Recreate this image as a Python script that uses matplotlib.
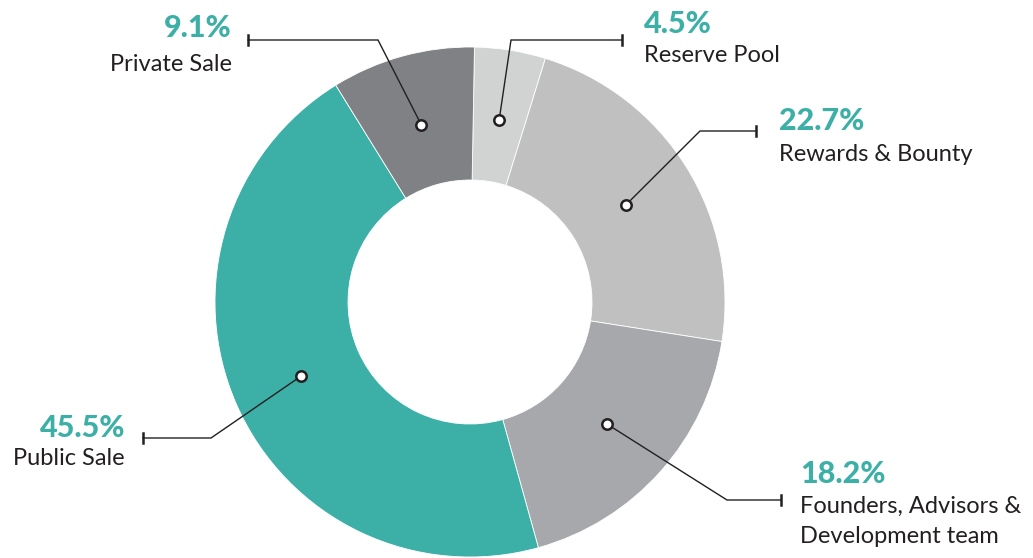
import numpy as np
import matplotlib
matplotlib.use("Agg")
import matplotlib.pyplot as plt

# ---- data ----
labels = ["Reserve Pool", "Rewards & Bounty", "Founders, Advisors &\nDevelopment team",
          "Public Sale", "Private Sale"]
values = [4.5, 22.7, 18.2, 45.5, 9.1]
pct_labels = ["4.5%", "22.7%", "18.2%", "45.5%", "9.1%"]
colors = ["#d1d3d2", "#bfc0bf", "#a7a8ab", "#3cafa7", "#808184"]

TEAL = "#3cafa7"
DARK = "#231f20"
W, H = 1033, 558

fig = plt.figure(figsize=(W / 100, H / 100), dpi=100)
ax = fig.add_axes([0, 0, 1, 1])

cx, cy = 470, 256
R_out, R_in = 255, 122
wedges, _ = ax.pie(values, colors=colors, startangle=89, counterclock=False,
                   center=(cx, cy), radius=R_out,
                   wedgeprops=dict(width=R_out - R_in, edgecolor="white", linewidth=0.6))
ax.set_xlim(0, W)
ax.set_ylim(0, H)
ax.set_aspect("equal")
ax.axis("off")

# layout for leaders: (elbow, end, text x, text align, pct baseline, label baseline)
layout = [
    ((511, 518), (622, 518), 644, "left", 525, 496),
    ((700, 427), (756, 427), 779, "left", 428, 397),
    ((727, 58), (781, 58), 800, "left", 75, 45),
    ((211, 120), (143, 120), 125, "right", 121, 93),
    ((378, 518), (248, 518), 232, "right", 521, 487),
]

font = "Lato"
r_dot = 184
for w, lab, pct, lay in zip(wedges, labels, pct_labels, layout):
    ang = np.deg2rad((w.theta1 + w.theta2) / 2)
    px, py = cx + r_dot * np.cos(ang), cy + r_dot * np.sin(ang)
    (ex, ey), (tx, ty), txtx, ha, pb, lb = lay
    ax.plot([px, ex, tx], [py, ey, ty], color=DARK, lw=1.0, zorder=5,
            solid_joinstyle="miter")
    ax.plot([tx, tx], [ty - 5, ty + 5], color=DARK, lw=1.8, zorder=5)
    ax.plot([px], [py], marker="o", ms=7.5, mfc="white", mec=DARK, mew=1.8, zorder=6)
    ax.text(txtx, pb, pct, color=TEAL, fontsize=22, fontweight="black", family=font,
            ha=ha, va="baseline")
    for i, line in enumerate(lab.split("\n")):
        ax.text(txtx, lb - i * 30, line, color=DARK, fontsize=17, family=font,
                ha=ha, va="baseline")

fig.savefig("out.png", dpi=100)
